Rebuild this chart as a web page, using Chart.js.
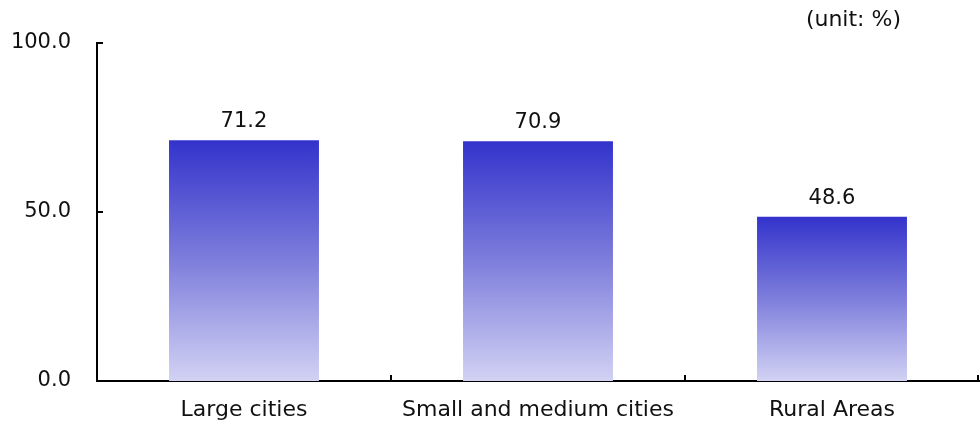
<!DOCTYPE html>
<html>
<head>
<meta charset="utf-8">
<script src="https://cdn.jsdelivr.net/npm/chart.js@4/dist/chart.umd.min.js"></script>
<style>
  html, body { margin: 0; padding: 0; background: #fff; }
  #wrap { width: 980px; height: 421px; }
</style>
</head>
<body>
<div id="wrap"><canvas id="bars"></canvas></div>
<script>
const categories = ['Large cities', 'Small and medium cities', 'Rural Areas'];
const shares = [71.2, 70.9, 48.6];
const yTicks = [0, 50, 100];
const unitLabel = '(unit: %)';

const FONT = "'DejaVu Sans', Verdana, sans-serif";
const FONT_SIZE = 21;
const LABEL_SIZE = 22;

// each bar fades from deep blue at its top down to pale lavender at the base
function barGradient(ctx) {
  const chart = ctx.chart;
  if (!chart.chartArea || ctx.dataIndex === undefined) return '#3434cc';
  const y = chart.scales.y;
  const top = y.getPixelForValue(ctx.raw);
  const base = y.getPixelForValue(0);
  const g = chart.ctx.createLinearGradient(0, top, 0, base);
  g.addColorStop(0, '#3333cc');
  g.addColorStop(0.5, '#7e7edc');
  g.addColorStop(1, '#d2d2f4');
  return g;
}

// value labels above the bars, inward tick marks and the unit note
const extras = {
  id: 'extras',
  afterDraw(chart) {
    const c = chart.ctx;
    const area = chart.chartArea;
    const ys = chart.scales.y;
    c.save();
    c.strokeStyle = '#000';
    c.lineWidth = 2;
    c.beginPath();
    yTicks.forEach(v => {
      if (v === 0) return;
      const py = Math.round(ys.getPixelForValue(v));
      c.moveTo(area.left, py);
      c.lineTo(area.left + 6, py);
    });
    const step = (area.right - area.left) / categories.length;
    for (let i = 1; i <= categories.length; i++) {
      const px = Math.min(area.left + step * i, area.right - 1);
      c.moveTo(px, area.bottom);
      c.lineTo(px, area.bottom - 6);
    }
    c.stroke();

    c.fillStyle = '#111';
    c.font = FONT_SIZE + 'px ' + FONT;
    c.textAlign = 'center';
    c.textBaseline = 'bottom';
    chart.getDatasetMeta(0).data.forEach((bar, i) => {
      c.fillText(shares[i].toFixed(1), bar.x, bar.y - 8);
    });

    c.font = LABEL_SIZE + 'px ' + FONT;
    c.textAlign = 'right';
    c.textBaseline = 'middle';
    c.fillText(unitLabel, 901, 20);
    c.restore();
  }
};

new Chart(document.getElementById('bars'), {
  type: 'bar',
  data: {
    labels: categories,
    datasets: [{
      data: shares,
      backgroundColor: barGradient,
      borderWidth: 0,
      categoryPercentage: 1,
      barPercentage: 0.51
    }]
  },
  options: {
    responsive: true,
    maintainAspectRatio: false,
    animation: false,
    layout: { padding: { top: 43, left: 10, right: 1, bottom: 0 } },
    plugins: {
      legend: { display: false },
      tooltip: { enabled: false }
    },
    scales: {
      x: {
        afterFit: s => { s.height = 40; },
        grid: { display: false, drawTicks: false },
        border: { display: true, color: '#000', width: 2 },
        ticks: { color: '#111', font: { family: FONT, size: LABEL_SIZE }, padding: 16 }
      },
      y: {
        min: 0,
        max: 100,
        afterFit: s => { s.width = 87; },
        afterBuildTicks: axis => { axis.ticks = yTicks.map(v => ({ value: v })); },
        grid: { display: false, drawTicks: false },
        border: { display: true, color: '#000', width: 2 },
        ticks: {
          color: '#111',
          font: { family: FONT, size: FONT_SIZE },
          padding: 26,
          callback: v => Number(v).toFixed(1)
        }
      }
    }
  },
  plugins: [extras]
});
</script>
</body>
</html>
